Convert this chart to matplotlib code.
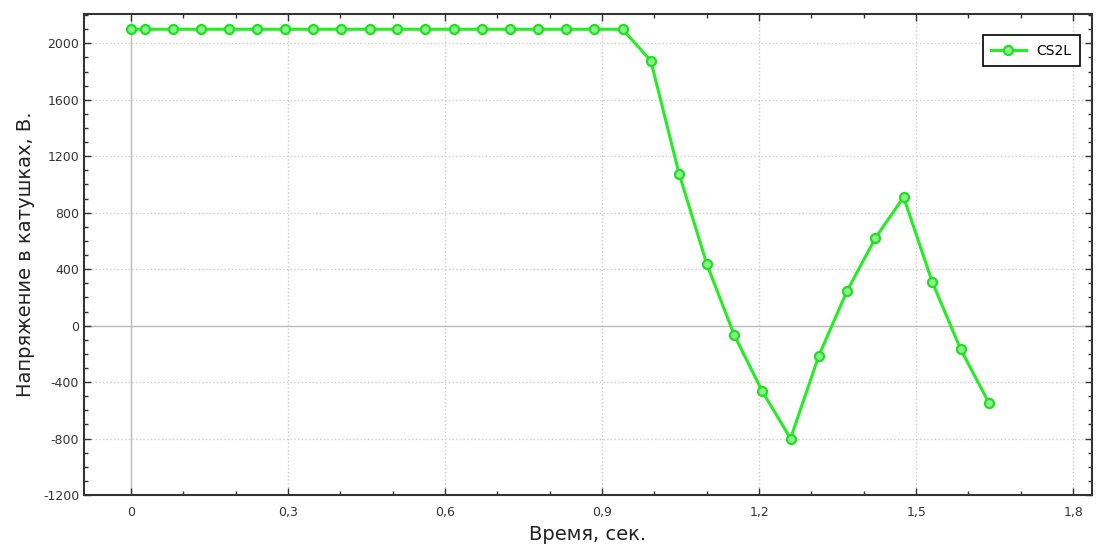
import matplotlib.pyplot as plt
import matplotlib.ticker as mticker
import numpy as np

# data
time_s = [0, 0.026, 0.080, 0.134, 0.188, 0.241, 0.294, 0.348, 0.402, 0.456,
          0.509, 0.562, 0.617, 0.670, 0.724, 0.777, 0.831, 0.885, 0.939, 0.993,
          1.047, 1.100, 1.152, 1.206, 1.260, 1.314, 1.368, 1.422, 1.476, 1.531,
          1.585, 1.639]
voltage = [2100] * 19 + [1877, 1077, 437, -63, -465, -800, -214, 246, 620,
                         911, 307, -167, -547]
series_name = "CS2L"
x_ticks = [0, 0.3, 0.6, 0.9, 1.2, 1.5, 1.8]
y_ticks = [-1200, -800, -400, 0, 400, 800, 1200, 1600, 2000]

plt.rcParams['font.family'] = ['DejaVu Sans']
plt.rcParams['axes.unicode_minus'] = False

fig = plt.figure(figsize=(10.97, 5.45), dpi=100)
ax = fig.add_axes([84/1097, 1 - 495/545, (1092-84)/1097, (495-14)/545])

# grid
for xv in x_ticks:
    ax.axvline(xv, color='#bbbbbb' if xv == 0 else '#cccccc',
               linestyle='-' if xv == 0 else ':', linewidth=1, zorder=0)
for yv in y_ticks:
    ax.axhline(yv, color='#bbbbbb' if yv == 0 else '#cccccc',
               linestyle='-' if yv == 0 else ':', linewidth=1, zorder=0)

ax.plot(time_s, voltage, color='#22ee22', linewidth=2.2, marker='o',
        markersize=6.5, markerfacecolor='#88f288', markeredgecolor='#22dd22',
        markeredgewidth=1.6, label=series_name, zorder=3)

ax.set_xlim(-0.09, 1.836)
ax.set_ylim(-1200, 2208)
ax.set_xticks(x_ticks)
ax.set_yticks(y_ticks)
ax.xaxis.set_minor_locator(mticker.MultipleLocator(0.1))
ax.yaxis.set_minor_locator(mticker.MultipleLocator(100))
ax.xaxis.set_major_formatter(mticker.FuncFormatter(
    lambda v, p: ('%g' % round(v, 2)).replace('.', ',')))
ax.tick_params(which='both', direction='in', top=True, right=True,
               labelsize=9, colors='#333333', width=1)
ax.tick_params(which='major', length=5)
ax.tick_params(which='minor', length=3)
ax.tick_params(axis='x', pad=8)
for s in ax.spines.values():
    s.set_color('#333333')
    s.set_linewidth(1.5)

ax.set_xlabel("Время, сек.", fontsize=14, color='#222222')
ax.set_ylabel("Напряжение в катушках, В.", fontsize=14, color='#222222', labelpad=6)

leg = ax.legend(loc='upper right', bbox_to_anchor=(0.995, 0.97), fancybox=False,
                framealpha=1, edgecolor='black', fontsize=10, handlelength=2.5,
                borderpad=0.6)
leg.get_frame().set_linewidth(1.2)

plt.savefig("out.png", dpi=100)
